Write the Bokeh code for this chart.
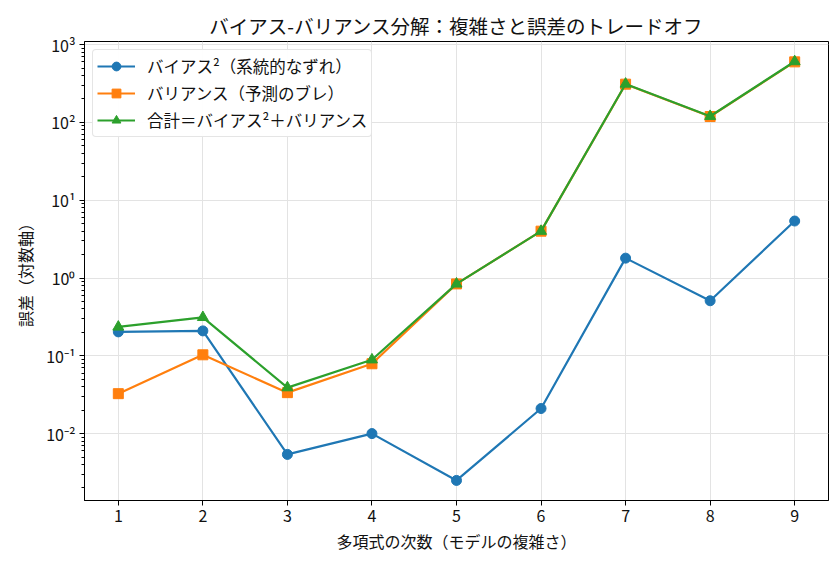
from bokeh.plotting import figure
from bokeh.models import FixedTicker, Range1d, Legend, LegendItem
from bokeh.embed import file_html
from bokeh.resources import INLINE

degrees = [1, 2, 3, 4, 5, 6, 7, 8, 9]
bias2 = [0.203, 0.209, 0.0054, 0.0100, 0.0025, 0.021, 1.8, 0.51, 5.4]
variance = [0.0326, 0.103, 0.0336, 0.079, 0.84, 4.0, 310, 119, 600]
total = [0.235, 0.312, 0.039, 0.089, 0.84, 4.0, 312, 120, 606]

y_ticks = [0.01, 0.1, 1, 10, 100, 1000]
y_tick_labels = ["10⁻²", "10⁻¹", "10⁰", "10¹", "10²", "10³"]
x_ticks = [1, 2, 3, 4, 5, 6, 7, 8, 9]

title_text = "バイアス-バリアンス分解：複雑さと誤差のトレードオフ"
x_label = "多項式の次数（モデルの複雑さ）"
y_label = "誤差（対数軸）"
names = ["バイアス²（系統的なずれ）", "バリアンス（予測のブレ）", "合計＝バイアス²＋バリアンス"]
colors = ["#1f77b4", "#ff7f0e", "#2ca02c"]

FONT = "Noto Sans CJK JP"

p = figure(width=840, height=565, y_axis_type="log", output_backend="svg",
           toolbar_location=None, x_range=Range1d(0.6, 9.4),
           y_range=Range1d(10 ** -2.86, 10 ** 3.04),
           min_border_left=84, min_border_right=12, min_border_top=41,
           min_border_bottom=65)

p.title.text = title_text
p.title.align = "center"
p.title.text_font = FONT
p.title.text_font_size = "19.5px"
p.title.text_font_style = "normal"
p.title.text_color = "#111111"
p.title.standoff = 4

minor = []
for e in range(-3, 3):
    for m in range(2, 10):
        minor.append(m * 10 ** e)

p.yaxis.ticker = FixedTicker(ticks=y_ticks, minor_ticks=minor)
p.yaxis.major_label_overrides = {t: l for t, l in zip(y_ticks, y_tick_labels)}
p.xaxis.ticker = FixedTicker(ticks=x_ticks)

for ax in (p.xaxis[0], p.yaxis[0]):
    ax.major_label_text_font = FONT
    ax.major_label_text_font_size = "16px"
    ax.major_label_text_color = "#111111"
    ax.axis_label_text_font = FONT
    ax.axis_label_text_font_size = "16px"
    ax.axis_label_text_font_style = "normal"
    ax.axis_label_text_color = "#111111"
    ax.major_tick_in = 0
    ax.major_tick_out = 5
    ax.minor_tick_in = 0
    ax.minor_tick_out = 3
    ax.axis_line_color = "black"
    ax.major_tick_line_color = "black"
    ax.minor_tick_line_color = "black"
    ax.major_label_standoff = 4

p.xaxis.axis_label = x_label
p.yaxis.axis_label = y_label
p.xaxis.minor_tick_line_color = None
p.xaxis.axis_label_standoff = 4
p.yaxis.axis_label_standoff = 6

p.outline_line_color = "black"
p.outline_line_width = 1
p.xgrid.grid_line_color = "#e3e3e3"
p.ygrid.grid_line_color = "#e3e3e3"
p.xgrid.grid_line_width = 1
p.ygrid.grid_line_width = 1

l1 = p.line(degrees, bias2, line_color=colors[0], line_width=2.2)
m1 = p.scatter(degrees, bias2, marker="circle", size=10, fill_color=colors[0], line_color=colors[0])
l2 = p.line(degrees, variance, line_color=colors[1], line_width=2.2)
m2 = p.scatter(degrees, variance, marker="square", size=10, fill_color=colors[1], line_color=colors[1])
l3 = p.line(degrees, total, line_color=colors[2], line_width=2.2)
m3 = p.scatter(degrees, total, marker="triangle", size=11, fill_color=colors[2], line_color=colors[2])

legend = Legend(items=[LegendItem(label=names[0], renderers=[l1, m1]),
                       LegendItem(label=names[1], renderers=[l2, m2]),
                       LegendItem(label=names[2], renderers=[l3, m3])],
                location="top_left")
legend.label_text_font = FONT
legend.label_text_font_size = "16.5px"
legend.label_text_color = "#111111"
legend.border_line_color = "#cccccc"
legend.border_radius = 4
legend.glyph_width = 38
legend.glyph_height = 22
legend.label_height = 22
legend.spacing = 3
legend.padding = 4
legend.margin = 8
legend.label_standoff = 12
p.add_layout(legend)

open("out.html", "w").write(file_html(p, INLINE))
